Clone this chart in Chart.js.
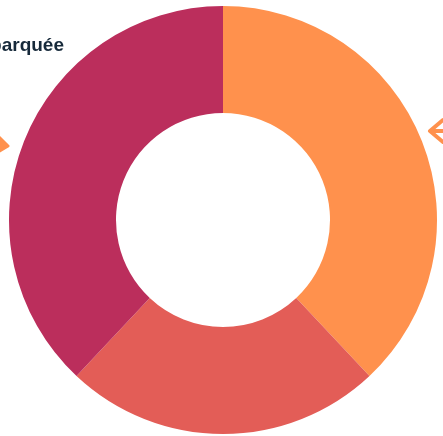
<!DOCTYPE html>
<html>
<head>
<meta charset="utf-8">
<script src="https://cdn.jsdelivr.net/npm/chart.js@4/dist/chart.umd.min.js"></script>
<style>
  html, body { margin: 0; padding: 0; background: #fff; }
  #wrap { position: relative; width: 443px; height: 436px; }
</style>
</head>
<body>
<div id="wrap"><canvas id="donut"></canvas></div>
<script>
// values (percent shares, clockwise from top)
const labels = ['Orange', 'Rouge', 'Framboise'];
const shares = [38, 24, 38];
const colors = ['#FF914D', '#E35D57', '#BB2E5C'];

// callout decorations that are cut off by the frame
const decorations = {
    id: 'decorations',
    afterDraw(chart) {
        const ctx = chart.ctx;
        ctx.save();
        // partial label top left
        ctx.fillStyle = '#16293A';
        ctx.font = 'bold 19px "Liberation Sans Narrow", sans-serif';
        ctx.textAlign = 'right';
        ctx.textBaseline = 'alphabetic';
        ctx.fillText('Embarquée', 64, 51);

        // left arrow head (pointing right)
        ctx.fillStyle = '#FF914D';
        ctx.strokeStyle = '#FF914D';
        ctx.lineJoin = 'round';
        ctx.lineWidth = 3;
        ctx.beginPath();
        ctx.moveTo(-10, 128);
        ctx.lineTo(8, 146);
        ctx.lineTo(-4, 153);
        ctx.closePath();
        ctx.fill();
        ctx.stroke();

        // right arrow (pointing left)
        ctx.lineWidth = 4;
        ctx.lineCap = 'round';
        ctx.beginPath();
        ctx.moveTo(443, 120);
        ctx.lineTo(430, 131);
        ctx.lineTo(443, 142);
        ctx.moveTo(431, 131);
        ctx.lineTo(446, 131);
        ctx.stroke();
        ctx.restore();
    }
};

new Chart(document.getElementById('donut'), {
    type: 'doughnut',
    data: {
        labels: labels,
        datasets: [{
            data: shares,
            backgroundColor: colors,
            borderWidth: 0
        }]
    },
    options: {
        responsive: true,
        maintainAspectRatio: false,
        animation: false,
        cutout: '50%',
        layout: {
            padding: { left: 9, right: 6, top: 6, bottom: 2 }
        },
        plugins: {
            legend: { display: false },
            tooltip: { enabled: false }
        }
    },
    plugins: [decorations]
});
</script>
</body>
</html>
